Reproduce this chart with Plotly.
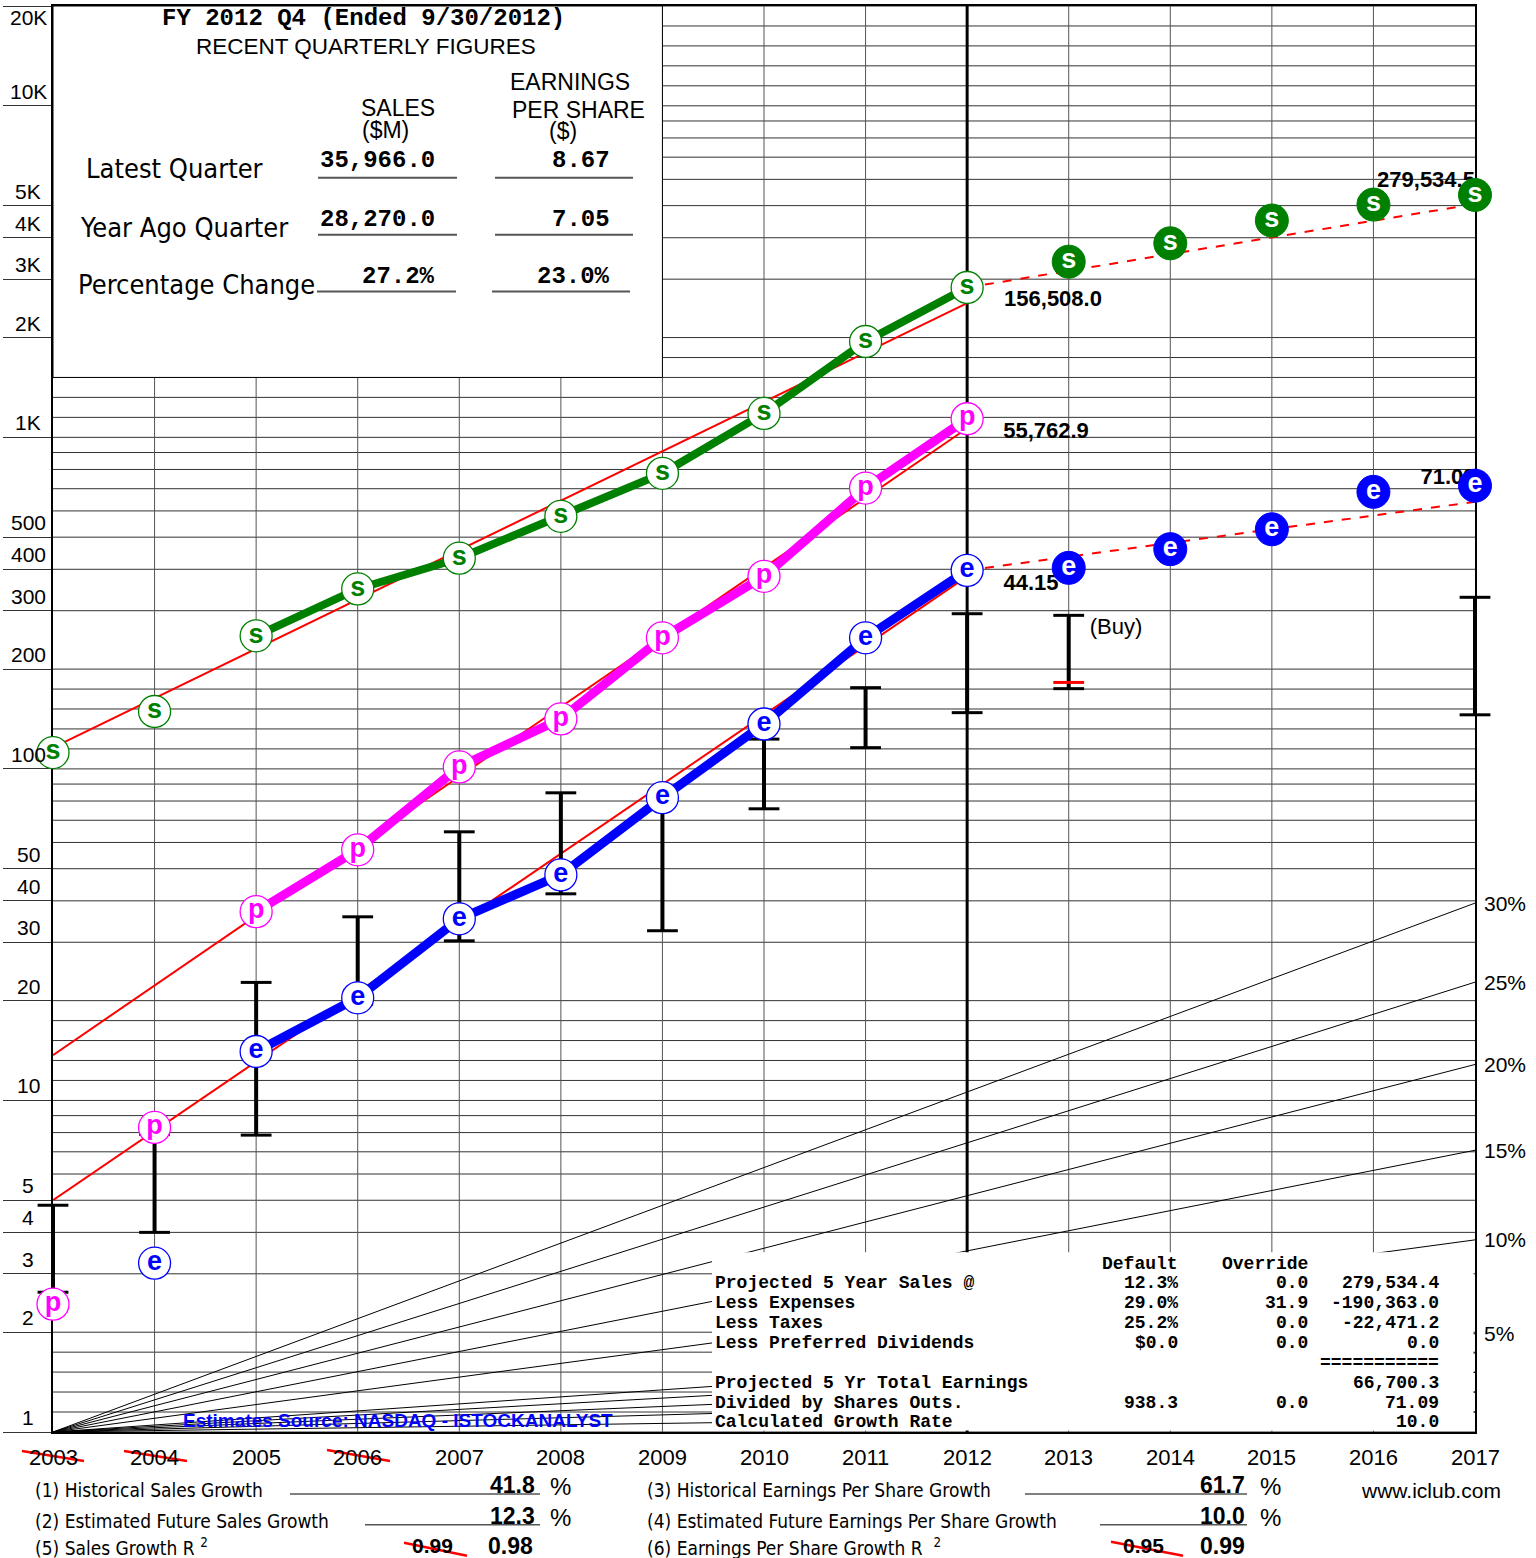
import math
import plotly.graph_objects as go

# ---------------- data (values as plotted on the chart's log scale) ----------------
years = [2003, 2004, 2005, 2006, 2007, 2008, 2009, 2010, 2011, 2012]
proj_years = [2013, 2014, 2015, 2016, 2017]
sales = [112, 149, 252, 349, 432, 578, 779, 1181, 1946, 2831]
sales_proj = [3388, 3848, 4508, 5036, 5385]
pretax = [2.43, 8.29, 37.1, 57.0, 101.4, 141.5, 248.6, 381, 703, 1138]
eps_years = [2004, 2005, 2006, 2007, 2008, 2009, 2010, 2011, 2012]
eps = [3.23, 14.05, 20.4, 35.3, 47.9, 81.9, 136.6, 248.6, 397]
eps_proj = [404, 460, 528, 685, 715]
connect_from = 2005

price_years = [2003, 2004, 2005, 2006, 2007, 2008, 2009, 2010, 2011, 2012, 2013, 2017]
price_high = [4.83, 7.9, 22.7, 35.8, 64.6, 84.7, 80.0, 123, 175.8, 293.8, 290.5, 329.3]
price_low = [2.64, 4.0, 7.86, 19.5, 30.3, 42.0, 32.5, 75.8, 115.9, 147.8, 174.6, 145.6]
current_price_year = [2013]
current_price = [182.3]

trend_years = [2003, 2012]
sales_trend = [116, 2540]
pretax_trend = [13.7, 1065]
eps_trend = [5.0, 381]
proj_line_years = [2012, 2017]
sales_proj_line = [2831, 5055]
eps_proj_line = [397, 639]
current_year = 2012

growth_rates = [1, 2, 3, 4, 5, 10, 15, 20, 25, 30]
labeled_rates = [5, 10, 15, 20, 25, 30]

y_tick_vals = [1, 2, 3, 4, 5, 10, 20, 30, 40, 50, 100, 200, 300, 400, 500,
               1000, 2000, 3000, 4000, 5000, 10000, 20000]
y_tick_text = ["1", "2", "3", "4", "5", "10", "20", "30", "40", "50", "100", "200", "300",
               "400", "500", "1K", "2K", "3K", "4K", "5K", "10K", "20K"]
x_years = list(range(2003, 2018))
struck_years = [2003, 2004, 2006]

value_labels = ["156,508.0", "55,762.9", "44.15", "279,534.5", "71.09", "(Buy)"]

qtr_rows = ["Latest Quarter", "Year Ago Quarter", "Percentage Change"]
qtr_sales = ["35,966.0", "28,270.0", "27.2%"]
qtr_eps = ["8.67", "7.05", "23.0%"]

tbl_labels = ["Projected 5 Year Sales @", "Less Expenses", "Less Taxes",
              "Less Preferred Dividends", "", "Projected 5 Yr Total Earnings",
              "Divided by Shares Outs.", "Calculated Growth Rate"]
tbl_default = ["12.3%", "29.0%", "25.2%", "$0.0", "", "", "938.3", ""]
tbl_override = ["0.0", "31.9", "0.0", "0.0", "", "", "0.0", ""]
tbl_result = ["279,534.4", "-190,363.0", "-22,471.2", "0.0", "===========",
              "66,700.3", "71.09", "10.0"]

# ---------------- geometry helpers (layout only) ----------------
W, H = 1536, 1558
L, T, PW, PH = 53, 4, 1422, 1428
YMAX = 20000
LOGMAX = math.log10(YMAX)


def pxx(px):
    return (px - L) / PW


def pyy(py):
    return (T + PH - py) / PH


def dx(px):
    return 2003 + (px - L) * 14 / PW


def dy(py):
    return 10 ** ((T + PH - py) * LOGMAX / PH)


GREEN = "#008000"
MAG = "#ff00ff"
BLUE = "#0000ff"
RED = "#ff0000"
MONO = "Liberation Mono, Courier New, monospace"
SANS = "Liberation Sans, Arial, sans-serif"
COND = "DejaVu Sans Condensed, DejaVu Sans, sans-serif"

fig = go.Figure()

# ---------------- grid ----------------
sub = [1.149, 1.320, 1.516, 1.741]
grid_vals = []
for d in [1, 10, 100, 1000, 10000]:
    for m in [1] + sub + [2, 3, 4, 5, 6, 7, 8, 9]:
        v = d * m
        if v <= YMAX * 1.0001:
            grid_vals.append(v)
gx, gy = [], []
for v in grid_vals:
    gx += [2003, 2017, None]
    gy += [v, v, None]
fig.add_trace(go.Scatter(x=gx, y=gy, mode="lines", line=dict(color="#333333", width=1),
                         hoverinfo="skip", showlegend=False))
vx, vy = [], []
for yr in x_years[1:-1]:
    vx += [yr, yr, None]
    vy += [1, YMAX, None]
fig.add_trace(go.Scatter(x=vx, y=vy, mode="lines", line=dict(color="#555555", width=1),
                         hoverinfo="skip", showlegend=False))
fig.add_trace(go.Scatter(x=[current_year, current_year], y=[1, YMAX], mode="lines",
                         line=dict(color="black", width=3), hoverinfo="skip", showlegend=False))

# growth-rate fan
fx, fy = [], []
for r in growth_rates:
    fx += [2003, 2017, None]
    fy += [1, (1 + r / 100) ** 14, None]
fig.add_trace(go.Scatter(x=fx, y=fy, mode="lines", line=dict(color="black", width=1),
                         hoverinfo="skip", showlegend=False))

# ---------------- trend lines ----------------
for tv in [sales_trend, pretax_trend, eps_trend]:
    fig.add_trace(go.Scatter(x=trend_years, y=tv, mode="lines", line=dict(color=RED, width=2),
                             hoverinfo="skip", showlegend=False))
for pv in [sales_proj_line, eps_proj_line]:
    fig.add_trace(go.Scatter(x=proj_line_years, y=pv, mode="lines",
                             line=dict(color=RED, width=2, dash="dash"),
                             hoverinfo="skip", showlegend=False))

# ---------------- price bars ----------------
bx, by = [], []
for yr, hi, lo in zip(price_years, price_high, price_low):
    bx += [yr, yr, None]
    by += [hi, lo, None]
fig.add_trace(go.Scatter(x=bx, y=by, mode="lines", line=dict(color="black", width=4),
                         hoverinfo="skip", showlegend=False, cliponaxis=False))
fig.add_trace(go.Scatter(x=price_years + price_years, y=price_high + price_low, mode="markers",
                         marker=dict(symbol="line-ew", size=22, line=dict(color="black", width=3)),
                         hoverinfo="skip", showlegend=False, cliponaxis=False))
fig.add_trace(go.Scatter(x=current_price_year, y=current_price, mode="markers",
                         marker=dict(symbol="line-ew", size=22, line=dict(color=RED, width=3)),
                         hoverinfo="skip", showlegend=False, cliponaxis=False))

# ---------------- connecting lines ----------------
i0 = years.index(connect_from)
j0 = eps_years.index(connect_from)
fig.add_trace(go.Scatter(x=years[i0:], y=sales[i0:], mode="lines",
                         line=dict(color=GREEN, width=8), hoverinfo="skip", showlegend=False))
fig.add_trace(go.Scatter(x=years[i0:], y=pretax[i0:], mode="lines",
                         line=dict(color=MAG, width=9), hoverinfo="skip", showlegend=False))
fig.add_trace(go.Scatter(x=eps_years[j0:], y=eps[j0:], mode="lines",
                         line=dict(color=BLUE, width=9), hoverinfo="skip", showlegend=False))

# ---------------- value labels that sit under the markers ----------------
lbl_pos = [(1053, 299), (1046, 431), (1031, 583), (1426, 180), (1448, 477), (1116, 627)]
fig.add_trace(go.Scatter(
    x=[dx(p[0]) for p in lbl_pos], y=[dy(p[1]) for p in lbl_pos], mode="text",
    text=["<b>%s</b>" % t for t in value_labels[:5]] + [value_labels[5]],
    textposition="middle center",
    textfont=dict(family=SANS, size=22, color="black"),
    hoverinfo="skip", showlegend=False, cliponaxis=False))

# ---------------- markers ----------------
def hist_markers(xs, ys, color, letter):
    fig.add_trace(go.Scatter(
        x=xs, y=ys, mode="markers+text", text=[letter] * len(xs),
        textposition="middle center",
        textfont=dict(family=SANS, size=27, color=color, weight="bold"),
        marker=dict(symbol="circle", size=32, color="white", line=dict(color=color, width=1.3)),
        hoverinfo="skip", showlegend=False, cliponaxis=False))


def proj_markers(xs, ys, color, letter):
    fig.add_trace(go.Scatter(
        x=xs, y=ys, mode="markers+text", text=[letter] * len(xs),
        textposition="middle center",
        textfont=dict(family=SANS, size=27, color="white", weight="bold"),
        marker=dict(symbol="circle", size=33, color=color, line=dict(color=color, width=1)),
        hoverinfo="skip", showlegend=False, cliponaxis=False))


hist_markers(years, sales, GREEN, "s")
proj_markers(proj_years, sales_proj, GREEN, "s")
hist_markers(years, pretax, MAG, "p")
hist_markers(eps_years, eps, BLUE, "e")
proj_markers(proj_years, eps_proj, BLUE, "e")

# ---------------- shapes & annotations ----------------
shapes = []
anns = []


def ann(text, x, y, size, family, color="black", xanchor="center", yanchor="middle"):
    anns.append(dict(text=text, x=pxx(x), y=pyy(y), xref="paper", yref="paper",
                     xanchor=xanchor, yanchor=yanchor, showarrow=False,
                     font=dict(size=size, family=family, color=color)))


def hline(x0, x1, y, color="#555555", width=1.5):
    shapes.append(dict(type="line", xref="paper", yref="paper", x0=pxx(x0), x1=pxx(x1),
                       y0=pyy(y), y1=pyy(y), line=dict(color=color, width=width), layer="above"))


def seg(x0, y0, x1, y1, color=RED, width=2.5):
    shapes.append(dict(type="line", xref="paper", yref="paper", x0=pxx(x0), x1=pxx(x1),
                       y0=pyy(y0), y1=pyy(y1), line=dict(color=color, width=width), layer="above"))


# y-axis value labels (left of the axis, above their grid line)
for v, t in zip(y_tick_vals, y_tick_text):
    top = v == y_tick_vals[-1]
    anns.append(dict(text=t, x=pxx(28), y=math.log10(v), xref="paper", yref="y",
                     xanchor="center", yanchor="top" if top else "bottom",
                     yshift=2 if top else 1, showarrow=False,
                     font=dict(size=21, family=SANS, color="black")))

# white boxes covering the grid
box_bottom = math.log10(1000 * 1.516) / LOGMAX
shapes.append(dict(type="rect", xref="paper", yref="paper", x0=0, x1=6 / 14,
                   y0=box_bottom, y1=1, fillcolor="white",
                   line=dict(color="black", width=1), layer="above"))
shapes.append(dict(type="rect", xref="paper", yref="paper", x0=pxx(712), x1=pxx(1473.5),
                   y0=pyy(1430.5), y1=pyy(1252), fillcolor="white",
                   line=dict(width=0), layer="above"))

# top-left quarterly box
ann("<b>FY 2012 Q4 (Ended 9/30/2012)</b>", 363, 17, 24, MONO)
ann("RECENT QUARTERLY FIGURES", 366, 45, 22.5, SANS)
ann("SALES", 398, 106, 23, SANS)
ann("($M)", 385, 128, 23, SANS)
ann("EARNINGS", 570, 80, 23, SANS)
ann("PER SHARE", 578, 108, 23, SANS)
ann("($)", 563, 129, 23, SANS)
row_y = [167, 226, 283]
row_x = [84, 78, 76]
for i in range(3):
    ann(qtr_rows[i], row_x[i], row_y[i], 27, COND, xanchor="left")
    ann("<b>%s</b>" % qtr_sales[i], 437, row_y[i] - 8, 24, MONO, xanchor="right")
    ann("<b>%s</b>" % qtr_eps[i], 612, row_y[i] - 8, 24, MONO, xanchor="right")
for y, sx, ex in [(176, 318, 495), (233, 318, 495), (290, 317, 492)]:
    hline(sx, sx + 139, y, "#555555", 2)
    hline(ex, ex + 138, y, "#555555", 2)

# right growth-rate labels
for r in labeled_rates:
    anns.append(dict(text="%d%%" % r, x=2017, y=math.log10((1 + r / 100) ** 14),
                     xref="x", yref="y", xanchor="left", yanchor="middle", xshift=7,
                     showarrow=False, font=dict(size=21, family=SANS, color="black")))

# x-axis year labels
for yr in x_years:
    anns.append(dict(text=str(yr), x=yr, y=0, xref="x", yref="paper", yshift=-25,
                     xanchor="center", yanchor="middle", showarrow=False,
                     font=dict(size=22, family=SANS, color="black")))
strike_px = {2003: (22, 1451, 84, 1461), 2004: (124, 1451, 187, 1461), 2006: (327, 1450, 390, 1461)}
for yr in struck_years:
    a, b, c, d = strike_px[yr]
    seg(a, b, c, d)

ann("<b>Estimates Source: NASDAQ - ISTOCKANALYST</b>", 181, 1420, 19, SANS, BLUE, xanchor="left")

# bottom-right projection table
tbl_y = [1283, 1303, 1323, 1343, 1363, 1383, 1403, 1422]
ann("<b>Default</b>", 1180, 1264, 18, MONO, xanchor="right")
ann("<b>Override</b>", 1310, 1264, 18, MONO, xanchor="right")
for i, y in enumerate(tbl_y):
    if tbl_labels[i]:
        ann("<b>%s</b>" % tbl_labels[i], 713, y, 18, MONO, xanchor="left")
    if tbl_default[i]:
        ann("<b>%s</b>" % tbl_default[i], 1180, y, 18, MONO, xanchor="right")
    if tbl_override[i]:
        ann("<b>%s</b>" % tbl_override[i], 1310, y, 18, MONO, xanchor="right")
    ann("<b>%s</b>" % tbl_result[i], 1441, y, 18, MONO, xanchor="right")

# bottom growth summary
ann("(1) Historical Sales Growth", 33, 1490, 19, COND, xanchor="left")
ann("(2) Estimated Future Sales Growth", 33, 1521, 19, COND, xanchor="left")
ann("(5) Sales Growth R <sup>2</sup>", 33, 1547, 19, COND, xanchor="left")
ann("(3) Historical Earnings Per Share Growth", 645, 1490, 19, COND, xanchor="left")
ann("(4) Estimated Future Earnings Per Share Growth", 645, 1521, 19, COND, xanchor="left")
ann("(6) Earnings Per Share Growth R  <sup>2</sup>", 645, 1547, 19, COND, xanchor="left")

ann("<b>41.8</b>", 537, 1485, 23, SANS, xanchor="right")
ann("<b>12.3</b>", 537, 1516, 23, SANS, xanchor="right")
ann("<b>61.7</b>", 1247, 1485, 23, SANS, xanchor="right")
ann("<b>10.0</b>", 1247, 1516, 23, SANS, xanchor="right")
for x in [548, 1258]:
    ann("%", x, 1487, 24, SANS, xanchor="left")
    ann("%", x, 1518, 24, SANS, xanchor="left")
hline(290, 540, 1494)
hline(365, 540, 1525)
hline(1025, 1247, 1494)
hline(1100, 1247, 1525)

ann("<b>0.99</b>", 455, 1546, 21, SANS, xanchor="right")
ann("<b>0.98</b>", 535, 1546, 23, SANS, xanchor="right")
ann("<b>0.95</b>", 1166, 1546, 21, SANS, xanchor="right")
ann("<b>0.99</b>", 1247, 1546, 23, SANS, xanchor="right")
seg(404, 1543, 467, 1556)
seg(1111, 1542, 1183, 1556)

ann("www.iclub.com", 1359, 1491, 21, SANS, xanchor="left")

fig.update_layout(
    width=W, height=H,
    margin=dict(l=L, r=W - L - PW, t=T, b=H - T - PH, pad=0),
    paper_bgcolor="white", plot_bgcolor="white",
    showlegend=False,
    shapes=shapes, annotations=anns,
    xaxis=dict(range=[2003, 2017], showgrid=False, zeroline=False, showticklabels=False,
               ticks="", showline=True, linecolor="black", linewidth=2, mirror=True,
               layer="below traces", fixedrange=True),
    yaxis=dict(type="log", range=[0, LOGMAX], showgrid=False, zeroline=False,
               showticklabels=False, tickvals=y_tick_vals, ticks="outside", ticklen=48,
               tickwidth=1, tickcolor="#333333", showline=True, linecolor="black",
               linewidth=2, mirror=True, layer="below traces", fixedrange=True),
)

fig.write_html("out.html", config={"displayModeBar": False},
               post_script="document.body.style.margin='0px';")
